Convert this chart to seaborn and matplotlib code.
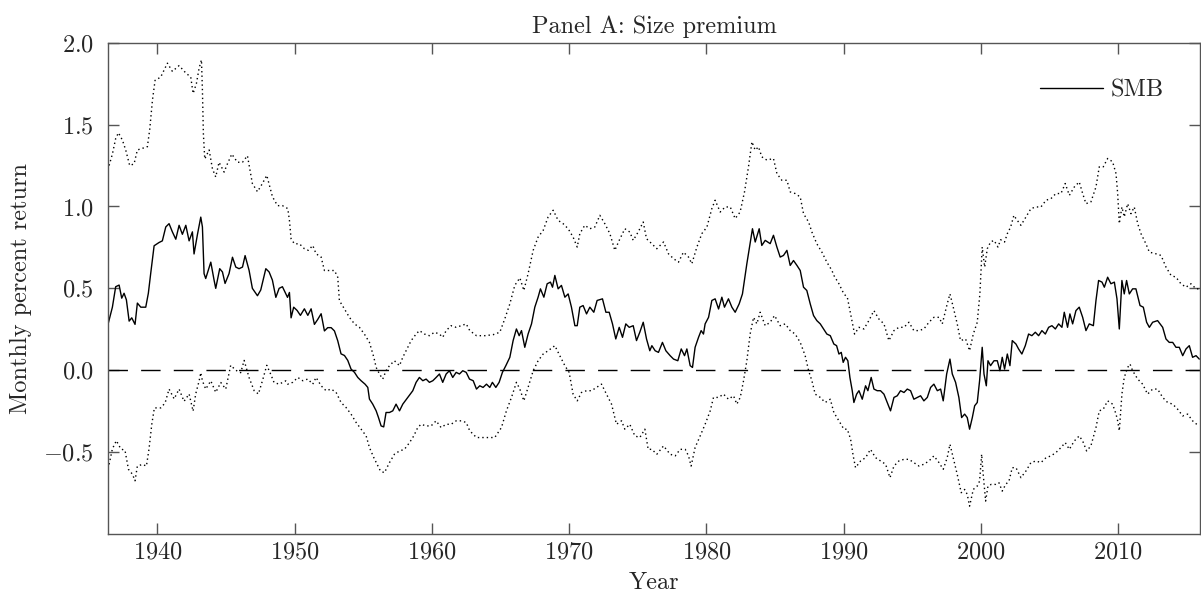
import numpy as np
import pandas as pd
import matplotlib
matplotlib.use("Agg")
import matplotlib.pyplot as plt
import seaborn as sns

# ---------------- data ----------------
smb_year = [1936.43, 1936.72, 1936.96, 1937.21, 1937.40, 1937.57, 1937.74, 1937.94, 1938.13, 1938.37,
            1938.54, 1938.79, 1939.15, 1939.34, 1939.51, 1939.76, 1940.12, 1940.36, 1940.61, 1940.85,
            1941.09, 1941.34, 1941.58, 1941.82, 1942.07, 1942.31, 1942.55, 1942.67, 1942.92, 1943.16,
            1943.28, 1943.40, 1943.52, 1943.89, 1944.13, 1944.25, 1944.54, 1944.74, 1944.93, 1945.22,
            1945.47, 1945.71, 1945.95, 1946.20, 1946.39, 1946.68, 1946.92, 1947.29, 1947.53, 1947.90,
            1948.14, 1948.38, 1948.63, 1948.87, 1949.11, 1949.48,
            1949.62, 1949.74, 1949.93, 1950.18, 1950.42, 1950.71, 1950.96, 1951.20, 1951.44, 1951.68,
            1951.93, 1952.17, 1952.41, 1952.66, 1952.90, 1953.14, 1953.38, 1953.63, 1953.87, 1954.11,
            1954.36, 1954.60, 1954.84, 1955.13, 1955.33, 1955.45, 1955.69, 1955.94, 1956.11, 1956.30,
            1956.49, 1956.66, 1956.91, 1957.15, 1957.39, 1957.64, 1957.88, 1958.24, 1958.61, 1958.85,
            1959.09, 1959.34, 1959.58, 1959.82, 1960.07, 1960.31, 1960.55, 1960.79, 1961.04, 1961.28,
            1961.52, 1961.77, 1962.01, 1962.25, 1962.50, 1962.74,
            1963.01, 1963.25, 1963.49, 1963.73, 1963.98, 1964.22, 1964.41, 1964.66, 1964.90, 1965.14,
            1965.39, 1965.68, 1965.92, 1966.16, 1966.36, 1966.53, 1966.77, 1967.01, 1967.26, 1967.50,
            1967.74, 1967.91, 1968.16, 1968.40, 1968.64, 1968.79, 1968.96, 1969.20, 1969.44, 1969.69,
            1969.93, 1970.17, 1970.42, 1970.59, 1970.78, 1971.02, 1971.27, 1971.51, 1971.80, 1972.04,
            1972.43, 1972.68, 1972.92, 1973.16, 1973.40, 1973.65, 1973.89, 1974.13, 1974.38, 1974.67,
            1974.91, 1975.15, 1975.40, 1975.64, 1975.88,
            1976.03, 1976.27, 1976.51, 1976.80, 1977.05, 1977.36, 1977.61, 1977.92, 1978.17, 1978.41,
            1978.58, 1978.82, 1978.99, 1979.18, 1979.43, 1979.62, 1979.79, 1979.91, 1980.16, 1980.40,
            1980.64, 1980.89, 1981.13, 1981.32, 1981.61, 1981.86, 1982.10, 1982.39, 1982.63, 1982.95,
            1983.19, 1983.36, 1983.56, 1983.85, 1984.04, 1984.29, 1984.65, 1984.89, 1985.14, 1985.38,
            1985.62, 1985.87, 1986.11, 1986.35, 1986.60, 1986.84, 1987.08, 1987.32, 1987.57, 1987.81,
            1988.05, 1988.30, 1988.54, 1988.78, 1989.03,
            1989.29, 1989.49, 1989.66, 1989.83, 1989.97, 1990.14, 1990.31, 1990.46, 1990.63, 1990.75,
            1990.95, 1991.12, 1991.36, 1991.60, 1991.77, 1992.01, 1992.21, 1992.45, 1992.69, 1992.94,
            1993.18, 1993.42, 1993.67, 1993.91, 1994.15, 1994.40, 1994.64, 1994.88, 1995.12, 1995.37,
            1995.61, 1995.85, 1996.10, 1996.34, 1996.58, 1996.83, 1997.07, 1997.26, 1997.51, 1997.75,
            1997.92, 1998.16, 1998.40, 1998.60, 1998.82, 1999.01, 1999.18, 1999.38, 1999.55, 1999.74,
            1999.91, 2000.10, 2000.23, 2000.40, 2000.52, 2000.71, 2000.96, 2001.20, 2001.39, 2001.56,
            2001.73, 2001.93, 2002.12, 2002.29,
            2002.56, 2002.75, 2002.99, 2003.24, 2003.48, 2003.72, 2003.97, 2004.21, 2004.45, 2004.70,
            2004.94, 2005.18, 2005.43, 2005.67, 2005.91, 2006.08, 2006.32, 2006.49, 2006.69, 2006.93,
            2007.17, 2007.42, 2007.66, 2007.90, 2008.20, 2008.39, 2008.58, 2008.83, 2009.00, 2009.24,
            2009.48, 2009.73, 2009.92, 2010.09, 2010.28, 2010.45, 2010.62, 2010.82, 2011.06, 2011.30,
            2011.60, 2011.84, 2012.08, 2012.28, 2012.52, 2012.88, 2013.25, 2013.49, 2013.73, 2013.98,
            2014.22, 2014.46, 2014.71, 2014.95, 2015.19, 2015.43, 2015.68, 2015.92]
smb_value = [0.29, 0.385, 0.51, 0.52, 0.44, 0.47, 0.43, 0.30, 0.32, 0.28,
             0.41, 0.385, 0.385, 0.47, 0.59, 0.76, 0.78, 0.79, 0.875, 0.895,
             0.845, 0.80, 0.885, 0.83, 0.885, 0.79, 0.845, 0.71, 0.83, 0.935,
             0.875, 0.59, 0.56, 0.66, 0.55, 0.50, 0.62, 0.60, 0.53, 0.59,
             0.69, 0.63, 0.62, 0.63, 0.70, 0.61, 0.50, 0.455, 0.49, 0.62,
             0.60, 0.55, 0.445, 0.50, 0.51, 0.445,
             0.475, 0.32, 0.385, 0.365, 0.335, 0.375, 0.335, 0.375, 0.28, 0.31,
             0.345, 0.24, 0.26, 0.26, 0.24, 0.18, 0.10, 0.09, 0.06, 0.007,
             -0.013, -0.044, -0.064, -0.085, -0.105, -0.176, -0.207, -0.248, -0.289, -0.340,
             -0.346, -0.258, -0.258, -0.248, -0.207, -0.248, -0.207, -0.166, -0.125, -0.074,
             -0.044, -0.064, -0.054, -0.074, -0.064, -0.044, -0.023, -0.074, -0.023, -0.003,
             -0.044, -0.013, -0.023, -0.003, -0.013, -0.054,
             -0.064, -0.115, -0.095, -0.105, -0.085, -0.105, -0.074, -0.105, -0.074, -0.013,
             0.028, 0.079, 0.181, 0.252, 0.211, 0.242, 0.140, 0.221, 0.283, 0.385,
             0.446, 0.497, 0.446, 0.528, 0.538, 0.507, 0.579, 0.497, 0.518, 0.446,
             0.466, 0.385, 0.272, 0.272, 0.385, 0.395, 0.344, 0.385, 0.354, 0.426,
             0.436, 0.354, 0.354, 0.283, 0.191, 0.262, 0.201, 0.283, 0.262, 0.272,
             0.181, 0.232, 0.293, 0.191, 0.119,
             0.150, 0.119, 0.109, 0.170, 0.119, 0.089, 0.068, 0.058, 0.130, 0.089,
             0.130, 0.028, 0.017, 0.140, 0.201, 0.242, 0.221, 0.283, 0.323, 0.426,
             0.436, 0.374, 0.446, 0.385, 0.436, 0.385, 0.354, 0.405, 0.466, 0.650,
             0.773, 0.864, 0.783, 0.864, 0.762, 0.793, 0.773, 0.824, 0.752, 0.691,
             0.701, 0.732, 0.640, 0.670, 0.640, 0.609, 0.507, 0.487, 0.405, 0.334,
             0.303, 0.283, 0.252, 0.221, 0.211,
             0.160, 0.150, 0.099, 0.109, 0.048, 0.079, 0.058, -0.044, -0.125, -0.197,
             -0.146, -0.125, -0.177, -0.095, -0.125, -0.044, -0.115, -0.125, -0.125, -0.146,
             -0.197, -0.248, -0.166, -0.156, -0.125, -0.136, -0.115, -0.125, -0.177, -0.166,
             -0.156, -0.187, -0.166, -0.105, -0.085, -0.125, -0.115, -0.187, -0.023, 0.068,
             -0.023, -0.074, -0.166, -0.289, -0.268, -0.289, -0.360, -0.289, -0.217, -0.197,
             -0.064, 0.140, -0.023, -0.095, 0.058, 0.028, 0.058, 0.058, -0.003, 0.079,
             0.007, 0.099, 0.028, 0.181,
             0.160, 0.130, 0.099, 0.150, 0.221, 0.211, 0.232, 0.211, 0.242, 0.221,
             0.262, 0.272, 0.252, 0.283, 0.262, 0.354, 0.262, 0.344, 0.283, 0.364,
             0.385, 0.323, 0.242, 0.283, 0.272, 0.426, 0.548, 0.538, 0.507, 0.568,
             0.528, 0.538, 0.436, 0.252, 0.548, 0.466, 0.548, 0.466, 0.497, 0.497,
             0.395, 0.385, 0.293, 0.262, 0.293, 0.303, 0.262, 0.191, 0.170, 0.170,
             0.140, 0.140, 0.089, 0.130, 0.150, 0.079, 0.089, 0.068]

upper_year = [1936.48, 1936.72, 1936.96, 1937.16, 1937.45, 1937.69, 1937.98, 1938.30, 1938.54, 1938.91,
              1939.27, 1939.44, 1939.64, 1939.83, 1940.24, 1940.73, 1941.09, 1941.58, 1942.07, 1942.43,
              1942.60, 1942.84, 1943.04, 1943.21, 1943.28, 1943.35, 1943.45, 1943.77, 1944.01, 1944.25,
              1944.49, 1944.86, 1945.10, 1945.42, 1945.83, 1946.20, 1946.56, 1946.92, 1947.29, 1947.65,
              1947.97, 1948.38, 1948.75, 1949.11,
              1949.50, 1949.62, 1949.74, 1949.98, 1950.35, 1950.71, 1951.00, 1951.32, 1951.56, 1951.93,
              1952.17, 1952.53, 1952.90, 1953.14, 1953.26, 1953.63, 1953.99, 1954.36, 1954.72, 1955.08,
              1955.45, 1955.77, 1955.94, 1956.18, 1956.42, 1956.66, 1956.91, 1957.27, 1957.64, 1957.88,
              1958.12, 1958.49, 1958.85, 1959.09, 1959.46, 1959.82, 1960.19, 1960.55, 1960.79, 1961.04,
              1961.40, 1961.77, 1962.13, 1962.50,
              1962.76, 1963.25, 1963.86, 1964.46, 1964.95, 1965.31, 1965.68, 1966.04, 1966.41, 1966.70,
              1967.01, 1967.38, 1967.74, 1968.11, 1968.47, 1968.84, 1969.20, 1969.56, 1969.93, 1970.29,
              1970.59, 1970.78, 1971.14, 1971.51, 1971.87, 1972.24, 1972.60, 1972.97, 1973.33, 1973.65,
              1974.06, 1974.42, 1974.67, 1975.03, 1975.40, 1975.64,
              1976.03, 1976.39, 1976.88, 1977.24, 1977.61, 1977.97, 1978.33, 1978.70, 1978.94, 1979.31,
              1979.67, 1980.04, 1980.40, 1980.64, 1981.01, 1981.37, 1981.74, 1982.10, 1982.46, 1982.78,
              1983.07, 1983.32, 1983.56, 1983.80, 1984.04, 1984.41, 1984.89, 1985.14, 1985.50, 1985.87,
              1986.11, 1986.47, 1986.84, 1987.08, 1987.45, 1987.69, 1988.05, 1988.42, 1988.78, 1989.15,
              1989.29, 1989.66, 1990.02, 1990.27, 1990.51, 1990.80, 1991.12, 1991.48, 1991.84, 1992.21,
              1992.57, 1992.94, 1993.30, 1993.67, 1994.03, 1994.40, 1994.76, 1995.12, 1995.49, 1995.85,
              1996.22, 1996.58, 1996.95, 1997.19, 1997.55, 1997.75, 1997.99, 1998.28, 1998.52, 1998.89,
              1999.18, 1999.45, 1999.74, 1999.93, 2000.10, 2000.28, 2000.47, 2000.71, 2000.96, 2001.25,
              2001.44, 2001.73, 2001.93, 2002.17, 2002.41,
              2002.56, 2002.92, 2003.29, 2003.65, 2004.02, 2004.38, 2004.75, 2005.11, 2005.47, 2005.84,
              2006.15, 2006.45, 2006.81, 2007.17, 2007.42, 2007.66, 2008.02, 2008.39, 2008.63, 2008.92,
              2009.24, 2009.60, 2009.85, 2009.97, 2010.09, 2010.28, 2010.45, 2010.70, 2010.94, 2011.18,
              2011.43, 2011.67, 2012.03, 2012.28, 2012.76, 2013.13, 2013.49, 2013.86, 2014.22, 2014.58,
              2014.95, 2015.31, 2015.68, 2015.92]
upper_value = [1.25, 1.32, 1.415, 1.45, 1.405, 1.345, 1.25, 1.26, 1.345, 1.355,
               1.365, 1.47, 1.65, 1.77, 1.79, 1.875, 1.825, 1.86, 1.815, 1.79,
               1.69, 1.75, 1.845, 1.895, 1.71, 1.445, 1.29, 1.345, 1.23, 1.18,
               1.27, 1.21, 1.26, 1.32, 1.27, 1.27, 1.31, 1.14, 1.09, 1.14,
               1.19, 1.06, 1.005, 1.005,
               0.987, 0.915, 0.803, 0.772, 0.772, 0.742, 0.732, 0.762, 0.711, 0.691,
               0.609, 0.609, 0.609, 0.568, 0.425, 0.374, 0.323, 0.283, 0.262, 0.221,
               0.170, 0.079, 0.017, -0.023, -0.054, -0.003, 0.028, 0.058, 0.028, 0.079,
               0.119, 0.181, 0.221, 0.242, 0.221, 0.211, 0.232, 0.221, 0.201, 0.242,
               0.272, 0.262, 0.272, 0.283,
               0.242, 0.211, 0.211, 0.217, 0.232, 0.313, 0.405, 0.518, 0.564, 0.487,
               0.589, 0.732, 0.813, 0.854, 0.936, 0.977, 0.915, 0.895, 0.864, 0.813,
               0.752, 0.834, 0.885, 0.864, 0.874, 0.946, 0.895, 0.834, 0.732, 0.793,
               0.864, 0.844, 0.793, 0.844, 0.905, 0.803,
               0.772, 0.742, 0.783, 0.711, 0.681, 0.660, 0.721, 0.691, 0.650, 0.752,
               0.834, 0.874, 0.987, 1.038, 0.966, 0.997, 0.997, 0.926, 0.966, 1.089,
               1.242, 1.395, 1.344, 1.364, 1.303, 1.283, 1.293, 1.201, 1.160, 1.160,
               1.089, 1.079, 1.058, 0.956, 0.905, 0.844, 0.772, 0.721, 0.660, 0.609,
               0.579, 0.528, 0.466, 0.446, 0.344, 0.221, 0.262, 0.252, 0.303, 0.364,
               0.313, 0.283, 0.181, 0.242, 0.262, 0.262, 0.293, 0.242, 0.242, 0.252,
               0.293, 0.323, 0.323, 0.283, 0.405, 0.466, 0.385, 0.283, 0.181, 0.191,
               0.119, 0.221, 0.293, 0.466, 0.752, 0.630, 0.742, 0.783, 0.793, 0.752,
               0.797, 0.783, 0.834, 0.874, 0.946,
               0.926, 0.885, 0.936, 0.987, 0.997, 0.997, 1.038, 1.048, 1.079, 1.079,
               1.140, 1.068, 1.119, 1.150, 1.079, 1.017, 1.028, 1.119, 1.242, 1.242,
               1.293, 1.273, 1.201, 1.079, 0.895, 0.997, 0.936, 1.017, 0.956, 0.997,
               0.895, 0.834, 0.772, 0.721, 0.711, 0.701, 0.630, 0.579, 0.568, 0.528,
               0.507, 0.528, 0.497, 0.497]

lower_year = [1936.48, 1936.72, 1937.01, 1937.33, 1937.64, 1937.89, 1938.18, 1938.37, 1938.54, 1938.91,
              1939.20, 1939.39, 1939.59, 1939.78, 1940.24, 1940.56, 1940.85, 1941.22, 1941.58, 1941.94,
              1942.31, 1942.60, 1942.79, 1943.04, 1943.16, 1943.28, 1943.52, 1943.89, 1944.25, 1944.62,
              1944.98, 1945.34, 1945.71, 1946.07, 1946.32, 1946.68, 1947.05, 1947.36, 1947.65, 1947.97,
              1948.26, 1948.50, 1948.87, 1949.35,
              1949.50, 1949.86, 1950.23, 1950.59, 1950.96, 1951.32, 1951.56, 1951.93, 1952.29, 1952.66,
              1953.02, 1953.38, 1953.75, 1954.11, 1954.48, 1954.84, 1955.21, 1955.45, 1955.77, 1956.01,
              1956.25, 1956.54, 1956.91, 1957.27, 1957.64, 1958.00, 1958.37, 1958.68, 1958.97, 1959.21,
              1959.58, 1959.94, 1960.31, 1960.67, 1961.04, 1961.40, 1961.77, 1962.13, 1962.50,
              1962.76, 1963.25, 1963.86, 1964.58, 1965.07, 1965.43, 1965.80, 1966.16, 1966.41, 1966.70,
              1967.01, 1967.38, 1967.74, 1968.11, 1968.47, 1968.96, 1969.32, 1969.69, 1970.00, 1970.29,
              1970.59, 1970.90, 1971.27, 1971.63, 1971.99, 1972.36, 1972.72, 1973.09, 1973.45, 1973.82,
              1974.06, 1974.42, 1974.79, 1975.15, 1975.52, 1975.76,
              1976.03, 1976.39, 1976.88, 1977.36, 1977.73, 1978.09, 1978.46, 1978.70, 1978.89, 1979.18,
              1979.55, 1979.91, 1980.28, 1980.52, 1980.89, 1981.25, 1981.61, 1981.98, 1982.22, 1982.47,
              1982.71, 1982.95, 1983.19, 1983.44, 1983.68, 1983.92, 1984.29, 1984.65, 1984.97, 1985.38,
              1985.75, 1986.11, 1986.47, 1986.84, 1987.20, 1987.45, 1987.69, 1987.93, 1988.30, 1988.66,
              1989.03,
              1989.29, 1989.66, 1990.02, 1990.27, 1990.51, 1990.70, 1990.87, 1991.24, 1991.60, 1991.96,
              1992.33, 1992.69, 1993.06, 1993.38, 1993.67, 1994.03, 1994.40, 1994.76, 1995.12, 1995.49,
              1995.85, 1996.22, 1996.58, 1996.95, 1997.26, 1997.55, 1997.75, 1998.04, 1998.28, 1998.57,
              1998.82, 1999.01, 1999.18, 1999.45, 1999.74, 1999.91, 2000.06, 2000.15, 2000.35, 2000.52,
              2000.76, 2001.08, 2001.32, 2001.56, 2001.81, 2002.05, 2002.29,
              2002.56, 2002.92, 2003.29, 2003.65, 2004.02, 2004.38, 2004.75, 2005.11, 2005.47, 2005.84,
              2006.15, 2006.45, 2006.81, 2007.17, 2007.42, 2007.71, 2008.02, 2008.39, 2008.63, 2008.92,
              2009.24, 2009.60, 2009.85, 2009.97, 2010.09, 2010.28, 2010.45, 2010.70, 2010.87, 2011.06,
              2011.43, 2011.79, 2012.15, 2012.52, 2012.88, 2013.25, 2013.61, 2013.98, 2014.34, 2014.71,
              2015.07, 2015.43, 2015.87]
lower_value = [-0.575, -0.48, -0.43, -0.48, -0.49, -0.605, -0.635, -0.675, -0.585, -0.575,
               -0.585, -0.48, -0.33, -0.23, -0.23, -0.20, -0.115, -0.175, -0.115, -0.19,
               -0.145, -0.25, -0.145, -0.065, -0.015, -0.065, -0.115, -0.065, -0.135, -0.075,
               -0.115, 0.03, 0.0, -0.015, 0.06, -0.045, -0.125, -0.145, -0.065, 0.03,
               -0.025, -0.075, -0.085, -0.065,
               -0.085, -0.074, -0.044, -0.064, -0.054, -0.085, -0.044, -0.095, -0.125, -0.115,
               -0.135, -0.197, -0.228, -0.268, -0.319, -0.360, -0.401, -0.472, -0.534, -0.574,
               -0.615, -0.626, -0.564, -0.513, -0.493, -0.483, -0.442, -0.401, -0.350, -0.330,
               -0.340, -0.340, -0.309, -0.350, -0.330, -0.330, -0.309, -0.309, -0.319,
               -0.370, -0.411, -0.411, -0.411, -0.350, -0.248, -0.166, -0.074, -0.115, -0.187,
               -0.105, -0.003, 0.058, 0.099, 0.119, 0.150, 0.089, 0.028, -0.013, -0.146,
               -0.187, -0.136, -0.125, -0.125, -0.105, -0.085, -0.146, -0.207, -0.330, -0.309,
               -0.360, -0.330, -0.401, -0.411, -0.360, -0.483,
               -0.483, -0.513, -0.462, -0.513, -0.523, -0.483, -0.483, -0.523, -0.585, -0.472,
               -0.401, -0.330, -0.248, -0.166, -0.166, -0.146, -0.177, -0.156, -0.207, -0.166,
               -0.064, 0.058, 0.221, 0.323, 0.283, 0.354, 0.272, 0.293, 0.334, 0.272,
               0.283, 0.242, 0.221, 0.170, 0.089, -0.003, -0.064, -0.146, -0.166, -0.197,
               -0.177,
               -0.258, -0.309, -0.360, -0.360, -0.421, -0.523, -0.595, -0.554, -0.534, -0.483,
               -0.534, -0.554, -0.574, -0.656, -0.585, -0.554, -0.544, -0.544, -0.564, -0.585,
               -0.574, -0.554, -0.523, -0.564, -0.605, -0.534, -0.452, -0.554, -0.636, -0.748,
               -0.728, -0.758, -0.830, -0.728, -0.707, -0.677, -0.513, -0.615, -0.799, -0.707,
               -0.697, -0.697, -0.687, -0.738, -0.697, -0.677, -0.595,
               -0.595, -0.656, -0.615, -0.564, -0.554, -0.564, -0.534, -0.523, -0.503, -0.472,
               -0.442, -0.483, -0.432, -0.401, -0.432, -0.493, -0.462, -0.350, -0.248, -0.238,
               -0.187, -0.207, -0.268, -0.309, -0.370, -0.146, -0.044, 0.017, 0.038, -0.003,
               -0.054, -0.085, -0.146, -0.115, -0.115, -0.166, -0.197, -0.207, -0.238, -0.279,
               -0.268, -0.309, -0.340]

x_ticks = [1940, 1950, 1960, 1970, 1980, 1990, 2000, 2010]
y_ticks = [-0.5, 0.0, 0.5, 1.0, 1.5, 2.0]
title = "Panel A: Size premium"
x_label = "Year"
y_label = "Monthly percent return"
legend_label = "SMB"

# ---------------- style ----------------
sns.set_theme(style="ticks")
plt.rcParams["font.family"] = ["cmr10", "DejaVu Serif"]
plt.rcParams["mathtext.fontset"] = "cm"
plt.rcParams["axes.formatter.use_mathtext"] = True
plt.rcParams["axes.unicode_minus"] = True

FS = 17.5

fig = plt.figure(figsize=(12.01, 6.02), dpi=100)
ax = fig.add_axes([108 / 1201, 1 - 534 / 602, (1200 - 108) / 1201, (534 - 42.7) / 602])

smb_df = pd.DataFrame({"year": smb_year, "value": smb_value})
up_df = pd.DataFrame({"year": upper_year, "value": upper_value})
lo_df = pd.DataFrame({"year": lower_year, "value": lower_value})

sns.lineplot(data=smb_df, x="year", y="value", ax=ax, color="black", lw=1.0,
             estimator=None, sort=False, label=legend_label)
sns.lineplot(data=up_df, x="year", y="value", ax=ax, color="black", lw=1.0,
             linestyle=(0, (1, 2.2)), estimator=None, sort=False, legend=False)
sns.lineplot(data=lo_df, x="year", y="value", ax=ax, color="black", lw=1.0,
             linestyle=(0, (1, 2.2)), estimator=None, sort=False, legend=False)
ax.axhline(0.0, color="black", lw=1.0, linestyle=(0, (14, 9.5)))

ax.set_xlim(1936.40, 2015.97)
ax.set_ylim(-1.0, 2.0)
ax.set_xticks(x_ticks)
ax.set_yticks(y_ticks)
ax.tick_params(axis="both", which="both", direction="in", length=8, width=1.0,
               color="#555555", labelsize=FS, top=True, right=True)
ax.tick_params(axis="y", pad=10)
ax.tick_params(axis="x", pad=5)
for s in ax.spines.values():
    s.set_color("#555555")
    s.set_linewidth(1.0)

ax.set_title(title, fontsize=FS, pad=7)
ax.set_xlabel(x_label, fontsize=FS, labelpad=6)
ax.set_ylabel(y_label, fontsize=FS, labelpad=8)

ax.legend(loc="upper right", frameon=False, fontsize=FS, handlelength=2.6,
          handletextpad=0.3, borderaxespad=1.1)

fig.savefig("out.png", dpi=100)
